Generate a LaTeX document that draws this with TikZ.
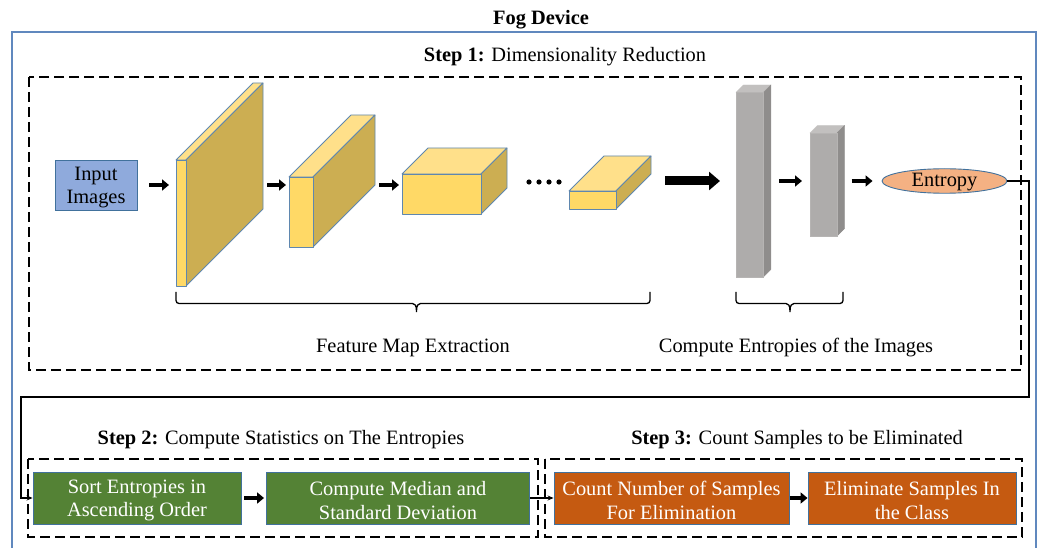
\documentclass[tikz,border=0pt]{standalone}
\usepackage{fontspec}
\setmainfont{Liberation Serif}
\usetikzlibrary{arrows.meta,shapes.geometric,calc}

\definecolor{framecol}{RGB}{96,136,190}
\definecolor{inputfill}{RGB}{143,170,220}
\definecolor{boxedge}{RGB}{65,113,156}
\definecolor{yelfront}{RGB}{255,217,102}
\definecolor{yeltop}{RGB}{255,224,138}
\definecolor{yelside}{RGB}{204,174,82}
\definecolor{yeledge}{RGB}{95,135,175}
\definecolor{gryfront}{RGB}{174,172,171}
\definecolor{grytop}{RGB}{194,192,191}
\definecolor{gryside}{RGB}{143,141,140}
\definecolor{entfill}{RGB}{244,177,131}
\definecolor{greenfill}{RGB}{84,130,53}
\definecolor{orangefill}{RGB}{197,90,17}

% cuboid: #1 name, #2 x, #3 y (top-left of front face), #4 width, #5 height, #6 depth, #7 style prefix
\newcommand\drawcuboid[7]{%
  \filldraw[#7top] (#2,#3) -- ({#2+#6},{#3-#6}) -- ({#2+#4+#6},{#3-#6}) -- ({#2+#4},#3) -- cycle;
  \filldraw[#7side] ({#2+#4},#3) -- ({#2+#4+#6},{#3-#6}) -- ({#2+#4+#6},{#3+#5-#6}) -- ({#2+#4},{#3+#5}) -- cycle;
  \filldraw[#7front] (#2,#3) rectangle ({#2+#4},{#3+#5});
  \coordinate (#1-l) at (#2,{#3+#5/2});
  \coordinate (#1-r) at ({#2+#4+#6},{#3+#5/2});
}

% grouping brace under a row of shapes: #1 left x, #2 tip x, #3 right x
\newcommand\groupbrace[3]{%
  \draw[bracepath] (#1,292) -- (#1,303.5) -- ({#2-7},303.5)
    .. controls ({#2-2},303.5) and (#2,305) .. (#2,314)
    .. controls (#2,305) and ({#2+2},303.5) .. ({#2+7},303.5)
    -- (#3,303.5) -- (#3,292);
}

\begin{document}
\begin{tikzpicture}[x=1pt,y=-1pt,
  every node/.style={font=\fontsize{20.4}{23.5}\selectfont, inner sep=0pt},
  txt/.style={yshift=-2.5pt},
  boxtext/.style={align=center, yshift=-2.5pt},
  yeltop/.style={fill=yeltop, draw=yeledge, line width=0.8pt, line join=round},
  yelside/.style={fill=yelside, draw=yeledge, line width=0.8pt, line join=round},
  yelfront/.style={fill=yelfront, draw=yeledge, line width=0.8pt, line join=round},
  grytop/.style={fill=grytop, draw=grytop!90!white, line width=0.4pt},
  gryside/.style={fill=gryside, draw=gryside, line width=0.4pt},
  gryfront/.style={fill=gryfront, draw=gryfront!90!white, line width=0.4pt},
  stepframe/.style={draw=black, line width=1.5pt, dash pattern=on 10pt off 5pt},
  procbox/.style={draw=boxedge, line width=0.9pt, minimum height=52pt},
  blockarrow/.style={line width=4.5pt, -{Triangle[length=7pt,width=11pt]}},
  bigarrow/.style={line width=9pt, -{Triangle[length=11pt,width=18pt]}},
  thinarrow/.style={line width=1.2pt, -{Stealth[length=6pt,width=5pt]}},
  bracepath/.style={line width=1.3pt, rounded corners=3pt},
]
\useasboundingbox (0,0) rectangle (1042,548);

% outer device frame
\draw[framecol, line width=1.3pt] (12,548) -- (12,32) -- (1036,32) -- (1036,548);
\node[txt, font=\fontsize{20.4}{23.5}\selectfont\bfseries] (title) at (541,17) {Fog Device};

% step 1
\node[txt] (t1) at (565,54) {\textbf{Step 1:} Dimensionality Reduction};
\draw[stepframe] (29,77) rectangle (1021,370);

\node[draw=boxedge, line width=0.9pt, fill=inputfill, minimum width=82pt, minimum height=50pt,
      label={[boxtext]center:{Input\\Images}}] (input) at (96,185) {};

\drawcuboid{s1}{176}{160}{10}{126}{77}{yel}
\drawcuboid{s2}{289}{177}{24}{70}{62}{yel}
\drawcuboid{s3}{402}{174}{79}{40}{26}{yel}
\drawcuboid{s4}{569}{191}{47}{18}{35}{yel}
\drawcuboid{g1}{736}{92.3}{27.5}{184.5}{7.3}{gry}
\drawcuboid{g2}{810}{133}{27}{103}{7.5}{gry}

\node[draw=boxedge, line width=0.9pt, fill=entfill, ellipse, minimum width=125pt, minimum height=24.5pt, text height=13pt, text depth=1pt] (ent) at (944.5,181) {Entropy};

\draw[blockarrow, shorten <=12pt, shorten >=7pt] (input.east) -- (input.east -| s1-l);
\draw[blockarrow, shorten <=4pt, shorten >=3pt] (s1-r |- input.east) -- (s2-l |- input.east);
\draw[blockarrow, shorten <=4pt, shorten >=3pt] (s2-r |- input.east) -- (s3-l |- input.east);
\foreach \dx in {0,10,20,30} \fill (529+\dx,182) circle (2.6pt);
\draw[bigarrow, shorten <=14pt, shorten >=16pt] (s4-r |- ent.west) -- (g1-l |- ent.west);
\draw[blockarrow, shorten <=8.5pt, shorten >=8pt] (g1-r |- ent.west) -- (g2-l |- ent.west);
\draw[blockarrow, shorten <=7pt, shorten >=9pt] (g2-r |- ent.west) -- (ent.west);

\groupbrace{176}{416.5}{650}
\groupbrace{736}{790}{843}
\node[txt] (fme) at (413,345) {Feature Map Extraction};
\node[txt] (cei) at (796,345) {Compute Entropies of the Images};

% step 2
\node[txt] (t2) at (281,437) {\textbf{Step 2:} Compute Statistics on The Entropies};
\draw[stepframe] (28,459) rectangle (538,537);
\node[procbox, fill=greenfill, minimum width=208pt,
      label={[boxtext, text=white]center:{Sort Entropies in\\Ascending Order}}] (sort) at (137,498) {};
\node[procbox, fill=greenfill, minimum width=263pt,
      label={[boxtext, text=white]center:{Compute Median and\\Standard Deviation}}] (cmp) at (398,498) {};

% step 3
\node[txt] (t3) at (797,437) {\textbf{Step 3:} Count Samples to be Eliminated};
\draw[stepframe] (545,459) rectangle (1022,537);
\node[procbox, fill=orangefill, minimum width=235pt,
      label={[boxtext, text=white]center:{Count Number of Samples\\For Elimination}}] (cnt) at (671.5,498) {};
\node[procbox, fill=orangefill, minimum width=208pt,
      label={[boxtext, text=white]center:{Eliminate Samples In\\the Class}}] (elim) at (912,498) {};

% connectors between steps
\coordinate (loopR) at (1029,397);
\coordinate (loopL) at (21,397);
\draw[thinarrow] (ent.east) -| (loopR) -- (loopL) |- (sort.west);
\draw[blockarrow, shorten <=3pt, shorten >=2pt] (sort.east) -- (cmp.west);
\draw[thinarrow] (cmp.east) -- (cnt.west);
\draw[blockarrow, shorten <=0.5pt, shorten >=0pt] (cnt.east) -- (elim.west);
\end{tikzpicture}
\end{document}
